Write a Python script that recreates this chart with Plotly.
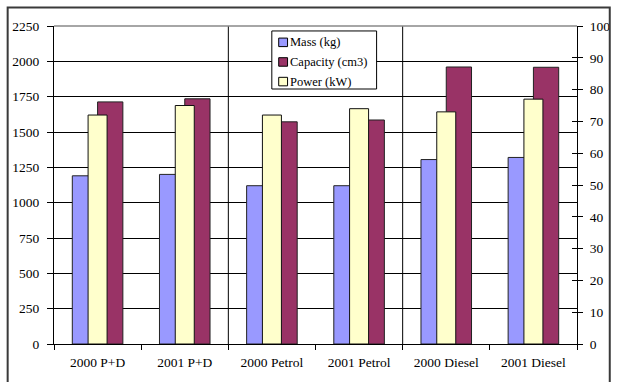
import plotly.graph_objects as go

# Vehicle fleet averages by year and fuel type
categories = ["2000 P+D", "2001 P+D", "2000 Petrol", "2001 Petrol", "2000 Diesel", "2001 Diesel"]
mass_kg = [1190, 1200, 1120, 1120, 1305, 1320]
capacity_cm3 = [1713, 1735, 1572, 1585, 1960, 1958]
power_kw = [72, 75, 72, 74, 73, 77]

left_ticks = list(range(0, 2251, 250))
right_ticks = list(range(0, 101, 10))

W, H = 622, 382
L, R, T, B = 52.6, 584.2, 25.7, 346.7


def px(x):
    return (x - L) / (R - L)


def py(y):
    return (B - y) / (B - T)


FONT = dict(family="Liberation Serif", size=13.5, color="#000")
LEGEND_FONT = dict(family="Liberation Serif", size=12.5, color="#000")
BLUE, MAROON, CREAM = "#9999FF", "#993366", "#FFFFCC"

fig = go.Figure()
fig.add_bar(x=categories, y=mass_kg, name="Mass (kg)", yaxis="y",
            offset=-0.29, width=0.29, marker=dict(color=BLUE, line=dict(color="#222", width=1)),
            showlegend=False)
fig.add_bar(x=categories, y=capacity_cm3, name="Capacity (cm3)", yaxis="y",
            offset=0.0, width=0.29, marker=dict(color=MAROON, line=dict(color="#222", width=1)),
            showlegend=False)
fig.add_bar(x=categories, y=power_kw, name="Power (kW)", yaxis="y2",
            offset=-0.109, width=0.218, marker=dict(color=CREAM, line=dict(color="#111", width=1)),
            showlegend=False)

shapes = []
# separators between fuel-type groups
for xb in (1.5, 3.5):
    shapes.append(dict(type="line", xref="x", yref="paper", x0=xb, x1=xb, y0=0, y1=1,
                       line=dict(color="#000", width=1), layer="below"))
# top edge of the plot area
shapes.append(dict(type="line", xref="paper", yref="paper", x0=0, x1=1, y0=1, y1=1,
                   line=dict(color="#888", width=1.5)))
# outer chart frame
shapes.append(dict(type="rect", xref="paper", yref="paper",
                   x0=px(5.5), x1=px(617.5), y0=py(395), y1=py(7),
                   line=dict(color="#3a3a3a", width=2), layer="above"))

# legend box
lx0, lx1, ly0, ly1 = 274, 380.5, 30.7, 89.3
shapes.append(dict(type="rect", xref="paper", yref="paper",
                   x0=px(lx0), x1=px(lx1), y0=py(ly1), y1=py(ly0),
                   fillcolor="#fff", line=dict(color="#000", width=1), layer="above"))
annotations = []
legend_items = [("Mass (kg)", BLUE), ("Capacity (cm3)", MAROON), ("Power (kW)", CREAM)]
for i, (label, col) in enumerate(legend_items):
    cy = 42.2 + i * 19.8
    shapes.append(dict(type="rect", xref="paper", yref="paper",
                       x0=px(281), x1=px(290), y0=py(cy + 4.3), y1=py(cy - 4.3),
                       fillcolor=col, line=dict(color="#000", width=1), layer="above"))
    annotations.append(dict(text=label, xref="paper", yref="paper", x=px(290.5), y=py(cy),
                            xanchor="left", yanchor="middle", showarrow=False,
                            font=LEGEND_FONT))

fig.update_layout(
    width=W, height=H,
    margin=dict(l=L, r=W - R, t=T, b=H - B),
    paper_bgcolor="#fff", plot_bgcolor="#fff",
    barmode="overlay",
    font=FONT,
    showlegend=False,
    shapes=shapes,
    annotations=annotations,
    xaxis=dict(type="category", range=[-0.5, 5.5], tickson="boundaries",
               ticks="outside", ticklen=5, tickcolor="#000", showline=True,
               linecolor="#000", linewidth=1, showgrid=False, tickfont=FONT,
               ticklabelstandoff=6),
    yaxis=dict(range=[0, 2250], tickvals=left_ticks, ticks="outside", ticklen=6,
               tickcolor="#000", showline=True, linecolor="#000", linewidth=1,
               showgrid=True, gridcolor="#000", gridwidth=1, zeroline=False,
               tickfont=FONT, ticklabelstandoff=5),
    yaxis2=dict(range=[0, 100], tickvals=right_ticks, overlaying="y", side="right",
                anchor="x", ticks="outside", ticklen=5, tickcolor="#000",
                showline=True, linecolor="#000", linewidth=1, showgrid=False,
                zeroline=False, tickfont=FONT, ticklabelstandoff=4),
    yaxis3=dict(range=[0, 100], tickvals=right_ticks, overlaying="y", side="right",
                anchor="x", ticks="inside", ticklen=5, tickcolor="#000",
                showline=False, showgrid=False, zeroline=False, showticklabels=False),
)
# invisible trace so the inner tick marks of the right axis are rendered
fig.add_scatter(x=categories, y=power_kw, yaxis="y3", mode="markers",
                marker=dict(opacity=0), hoverinfo="skip", showlegend=False)

fig.write_html("out.html")
